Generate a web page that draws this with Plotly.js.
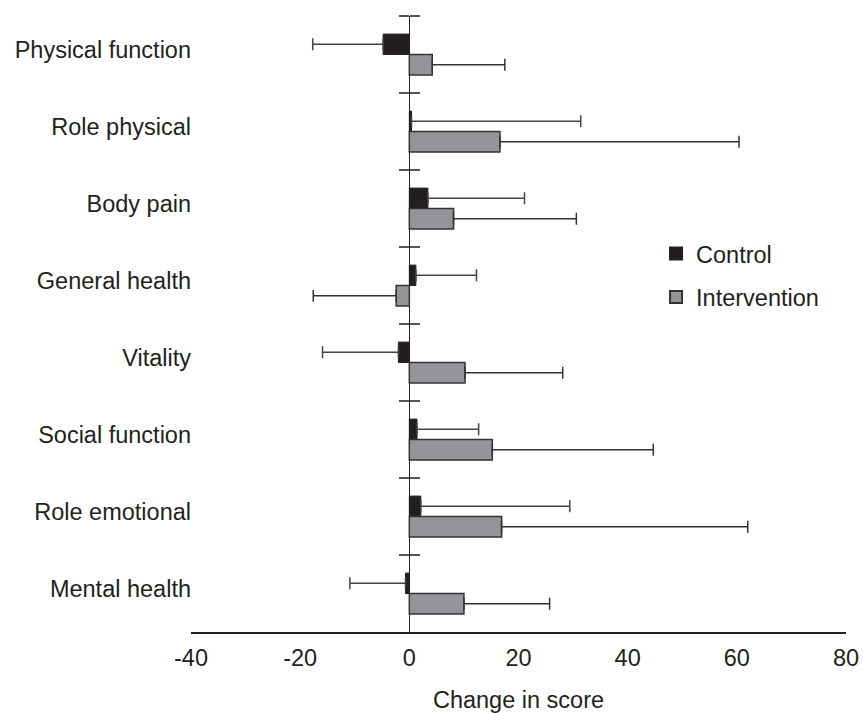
<!DOCTYPE html>
<html>
<head>
<meta charset="utf-8">
<script src="https://cdn.plot.ly/plotly-3.0.1.min.js"></script>
<style>html,body{margin:0;padding:0;background:#fff;}#chart{width:863px;height:713px;}</style>
</head>
<body>
<div id="chart"></div>
<script>
const categories = ["Physical function","Role physical","Body pain","General health","Vitality","Social function","Role emotional","Mental health"];
const controlValues = [-4.8, 0.4, 3.4, 1.2, -2.0, 1.4, 2.1, -0.7];
const controlErrors = [12.9, 31.0, 17.7, 11.1, 13.9, 11.3, 27.3, 10.2];
const interventionValues = [4.2, 16.6, 8.1, -2.4, 10.2, 15.2, 16.9, 10.0];
const interventionErrors = [13.3, 43.8, 22.5, 15.2, 17.9, 29.5, 45.1, 15.7];
const xTickValues = [-40, -20, 0, 20, 40, 60, 80];

const FONT = "Liberation Sans, Arial, sans-serif";
const FS = 23.5;
const plus = (v, e) => v.map((x, i) => x >= 0 ? e[i] : 0);
const minus = (v, e) => v.map((x, i) => x < 0 ? e[i] : 0);

const traces = [
  {
    type: "bar", orientation: "h", name: "Control", showlegend: false,
    y: categories, x: controlValues,
    marker: {color: "#231f20", line: {color: "#231f20", width: 1}},
    error_x: {type: "data", symmetric: false, array: plus(controlValues, controlErrors),
              arrayminus: minus(controlValues, controlErrors), color: "#444", thickness: 1.5, width: 6}
  },
  {
    type: "bar", orientation: "h", name: "Intervention", showlegend: false,
    y: categories, x: interventionValues,
    marker: {color: "#939598", line: {color: "#333", width: 1.5}},
    error_x: {type: "data", symmetric: false, array: plus(interventionValues, interventionErrors),
              arrayminus: minus(interventionValues, interventionErrors), color: "#333", thickness: 1.5, width: 6}
  },
  {type: "scatter", mode: "markers", name: "Control", legendgroup: "c", x: [null], y: [null],
   marker: {symbol: "square", size: 16, color: "#231f20", line: {color: "#231f20", width: 1}}},
  {type: "scatter", mode: "markers", name: "Intervention", legendgroup: "i", x: [null], y: [null],
   marker: {symbol: "square", size: 16, color: "#939598", line: {color: "#333", width: 1}}},
  {type: "scatter", mode: "none", x: controlValues, y: categories, yaxis: "y2",
   showlegend: false, hoverinfo: "skip"},
  {type: "scatter", mode: "none", x: controlValues, y: categories, yaxis: "y3",
   showlegend: false, hoverinfo: "skip"}
];

const yRange = [categories.length - 0.5, -0.5];

const layout = {
  width: 863, height: 713,
  margin: {l: 191, r: 17, t: 16, b: 81},
  paper_bgcolor: "#fff", plot_bgcolor: "#fff",
  font: {family: FONT, size: FS, color: "#231f20"},
  barmode: "group", bargap: 0.47, bargroupgap: 0,
  showlegend: true,
  legend: {x: 0.71, y: 0.65, xanchor: "left", yanchor: "top", traceorder: "grouped",
           font: {family: FONT, size: FS, color: "#231f20"},
           bgcolor: "rgba(0,0,0,0)", tracegroupgap: 10, itemsizing: "constant"},
  xaxis: {
    range: [-40, 80], tickvals: xTickValues, ticktext: xTickValues.map(String),
    showgrid: false, zeroline: true, zerolinecolor: "#231f20", zerolinewidth: 1.5,
    showline: true, linecolor: "#231f20", linewidth: 1.5, ticks: "",
    tickfont: {family: FONT, size: FS, color: "#231f20"}, ticklabelstandoff: 4,
    title: {text: "Change in score", font: {family: FONT, size: FS, color: "#231f20"}, standoff: 30},
    fixedrange: true
  },
  yaxis: {
    type: "category", categoryorder: "array", categoryarray: categories,
    range: yRange, showgrid: false, zeroline: false, showline: false, ticks: "",
    tickfont: {family: FONT, size: FS, color: "#231f20"}, ticklabelstandoff: 0, ticklabelshift: 5,
    anchor: "free", position: 0, fixedrange: true
  },
  yaxis2: {
    type: "category", categoryorder: "array", categoryarray: categories,
    range: yRange, overlaying: "y", anchor: "free", position: 1/3, side: "left",
    showgrid: false, zeroline: false, showline: false, showticklabels: false,
    tickson: "boundaries", ticks: "outside", ticklen: 10, tickwidth: 1.5, tickcolor: "#555",
    fixedrange: true
  },
  yaxis3: {
    type: "category", categoryorder: "array", categoryarray: categories,
    range: yRange, overlaying: "y", anchor: "free", position: 1/3, side: "right",
    showgrid: false, zeroline: false, showline: false, showticklabels: false,
    tickson: "boundaries", ticks: "outside", ticklen: 10, tickwidth: 1.5, tickcolor: "#555",
    fixedrange: true
  }
};

Plotly.newPlot("chart", traces, layout, {displayModeBar: false, staticPlot: true});
</script>
</body>
</html>
